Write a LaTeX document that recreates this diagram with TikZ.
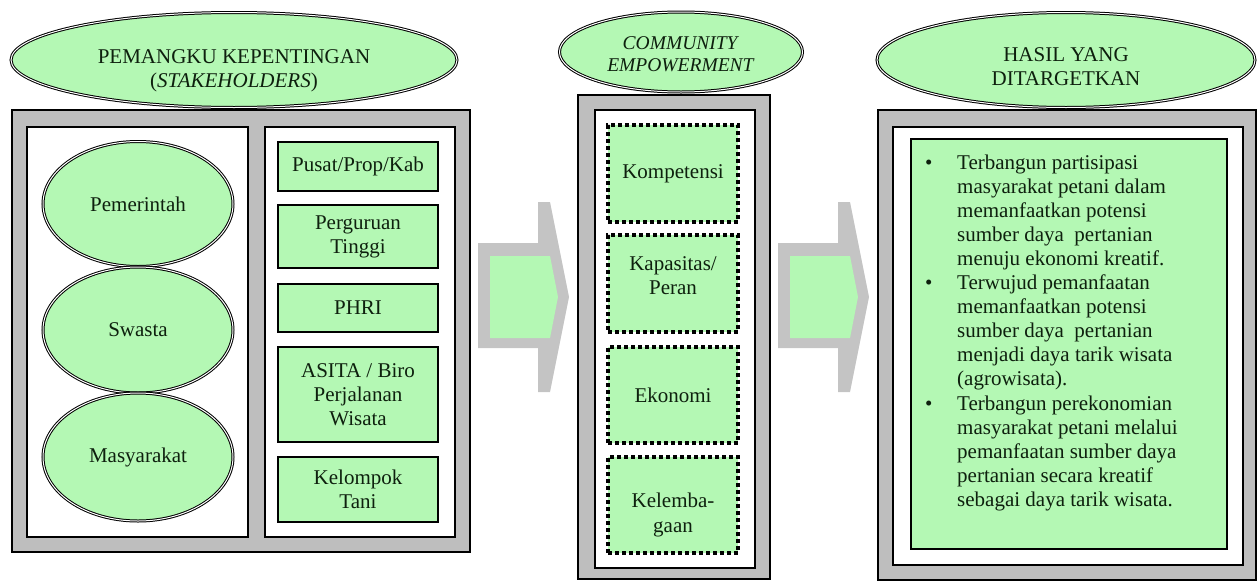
\documentclass[tikz,border=0pt]{standalone}
\usepackage{fontspec}
\setmainfont{Liberation Serif}
\usetikzlibrary{shapes.geometric}
\definecolor{lgreen}{RGB}{180,248,180}
\definecolor{boxgray}{RGB}{190,190,190}
\definecolor{arrgray}{RGB}{196,196,196}
\definecolor{txtc}{RGB}{14,32,14}
\begin{document}
\begin{tikzpicture}[x=1pt,y=-1pt,
  every node/.style={font=\fontsize{21}{24.1}\selectfont, text=txtc},
  outerbox/.style={draw=black, line width=2pt, fill=boxgray},
  innerbox/.style={draw=black, line width=2.6pt, fill=white},
  ell/.style={ellipse, draw=black, line width=1pt, double=white, double distance=1pt, fill=lgreen, inner sep=0pt, align=center},
  gbox/.style={rectangle, draw=black, line width=1.4pt, fill=lgreen, inner sep=0pt, align=center, minimum width=160pt},
  dbox/.style={rectangle, draw=black, line width=3.2pt, dash pattern=on 4pt off 3pt, fill=lgreen, inner sep=0pt, align=center, minimum width=130pt},
  lbl/.style={align=center, inner sep=0pt},
  arrowshape/.style={fill=arrgray},
  arrowfill/.style={fill=lgreen}
]
\useasboundingbox (0,0) rectangle (1257,581);

% ---------- left section ----------
\draw[outerbox] (12,110) rectangle (470,552);
\draw[innerbox] (27,127) rectangle (248,537);
\draw[innerbox] (265,127) rectangle (455,537);
\node[ell, minimum width=446pt, minimum height=95pt] (stk) at (234,60) {};
\node[lbl] (stkt) at (234,71) {PEMANGKU KEPENTINGAN\\(\textit{STAKEHOLDERS})};

\node[ell, minimum width=190pt, minimum height=125pt] (pem) at (138,204) {Pemerintah};
\node[ell, minimum width=190pt, minimum height=126pt] (swa) at (138,330) {Swasta};
\node[ell, minimum width=190pt, minimum height=128pt] (mas) at (138,457) {Masyarakat};

\node[gbox, minimum height=49pt] (pus) at (358,166.5) {Pusat/Prop/Kab};
\node[gbox, minimum height=63pt] (per) at (358,236.5) {Perguruan\\Tinggi};
\node[gbox, minimum height=48pt] (phr) at (358,308) {PHRI};
\node[gbox, minimum height=95pt] (asi) at (358,394.5) {ASITA / Biro\\Perjalanan\\Wisata};
\node[gbox, minimum height=65pt] (kel) at (358,489.5) {Kelompok\\Tani};

% ---------- arrows ----------
\foreach \dx in {0, 300}{
  \begin{scope}[xshift=\dx pt]
    \fill[arrowshape] (478,243) -- (538,243) -- (538,202) -- (550,202) -- (569,297) -- (550,392) -- (538,392) -- (538,348) -- (478,348) -- cycle;
    \fill[arrowfill] (490,256) -- (550,256) -- (558,297) -- (550,338) -- (490,338) -- cycle;
  \end{scope}
}

% ---------- middle section ----------
\draw[outerbox] (578,95) rectangle (770,579);
\draw[innerbox] (595,110) rectangle (755,568);
\node[ell, minimum width=243pt, minimum height=80pt] (com) at (681,52) {};
\node[lbl, font=\fontsize{19.5}{22.5}\selectfont] (comt) at (681,54) {\textit{COMMUNITY}\\\textit{EMPOWERMENT}};

\node[dbox, minimum height=97pt] (kom) at (673,173.5) {Kompetensi};
\node[dbox, minimum height=97pt] (kap) at (673,283.5) {};
\node[lbl] (kapt) at (673,276) {Kapasitas/\\Peran};
\node[dbox, minimum height=96pt] (eko) at (673,395) {Ekonomi};
\node[dbox, minimum height=96pt] (klb) at (673,505) {};
\node[lbl] (klbt) at (673,515) {Kelemba-\\gaan};

% ---------- right section ----------
\draw[outerbox] (878,110) rectangle (1256,580);
\draw[innerbox] (893,127) rectangle (1243,565);
\node[ell, minimum width=378pt, minimum height=95pt] (has) at (1066,60) {};
\node[lbl] (hast) at (1066,67) {HASIL YANG\\DITARGETKAN};
\node[rectangle, draw=black, line width=1.4pt, fill=lgreen, minimum width=316pt, minimum height=410pt, inner sep=0pt] (resbox) at (1069,344) {};
\node[inner sep=0pt, anchor=base west] (res) at (925,169) {%
\begin{tabular}[t]{@{}p{32pt}@{}l@{}}
\textbullet & Terbangun partisipasi\\
 & masyarakat petani dalam\\
 & memanfaatkan potensi\\
 & sumber daya\ \ pertanian\\
 & menuju ekonomi kreatif.\\
\textbullet & Terwujud pemanfaatan\\
 & memanfaatkan potensi\\
 & sumber daya\ \ pertanian\\
 & menjadi daya tarik wisata\\
 & (agrowisata).\\
\textbullet & Terbangun perekonomian\\
 & masyarakat petani melalui\\
 & pemanfaatan sumber daya\\
 & pertanian secara kreatif\\
 & sebagai daya tarik wisata.
\end{tabular}};
\end{tikzpicture}
\end{document}
